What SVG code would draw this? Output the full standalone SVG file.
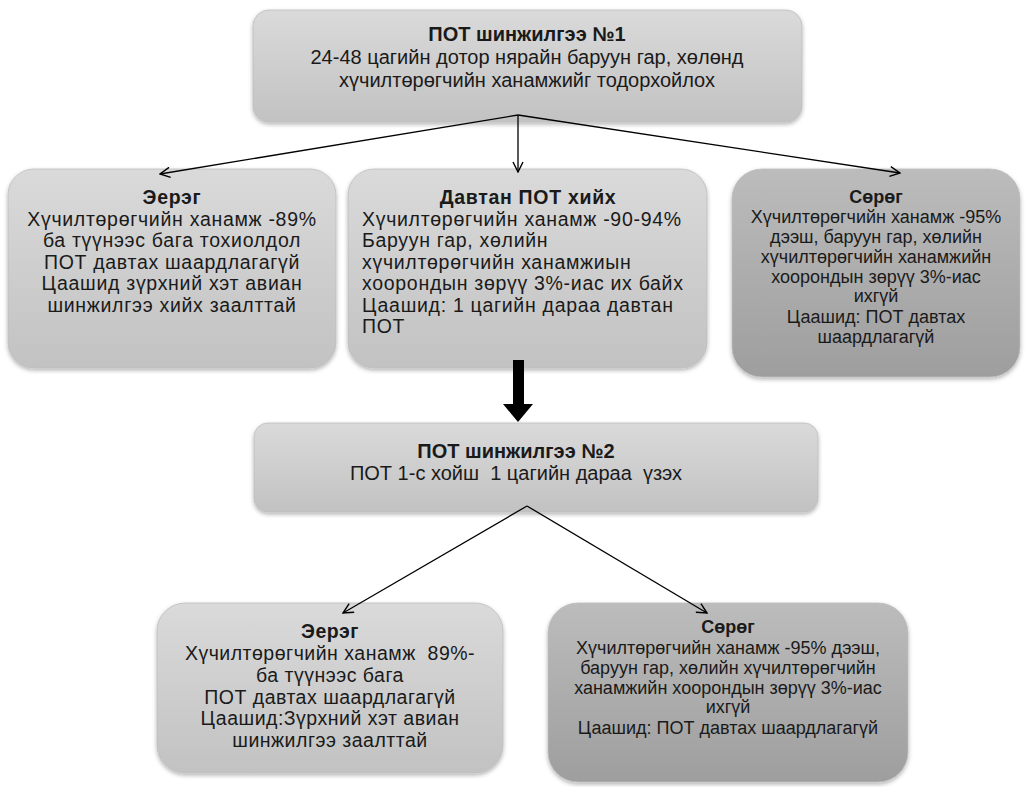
<svg xmlns="http://www.w3.org/2000/svg" width="1027" height="787" viewBox="0 0 1027 787">
<defs>
<linearGradient id="gLight" x1="0" y1="0" x2="0" y2="1">
<stop offset="0" stop-color="#dadada"/><stop offset="1" stop-color="#c2c2c2"/>
</linearGradient>
<linearGradient id="gDark" x1="0" y1="0" x2="0" y2="1">
<stop offset="0" stop-color="#bcbcbc"/><stop offset="1" stop-color="#9e9e9e"/>
</linearGradient>
<filter id="sh" x="-5%" y="-5%" width="110%" height="115%">
<feDropShadow dx="0" dy="2" stdDeviation="2" flood-color="#000" flood-opacity="0.3"/>
</filter>
<marker id="arr" viewBox="0 0 12 12" refX="11" refY="6" markerWidth="12" markerHeight="12" markerUnits="userSpaceOnUse" orient="auto">
<path d="M1,1 L11,6 L1,11" fill="none" stroke="#000" stroke-width="1.4"/>
</marker>
</defs>
<style>
.box{filter:url(#sh);stroke:#bdbdbd;stroke-width:0.8}
.light{fill:url(#gLight)}
.dark{fill:url(#gDark)}
text{font-family:"Liberation Sans",Arial,sans-serif;fill:#1a1a1a;font-size:19.5px;letter-spacing:0.7px}
.c{text-anchor:middle}
.b{font-weight:bold}
.t{font-size:20px;letter-spacing:0}
.m{letter-spacing:0.5px}
.s{font-size:18px;letter-spacing:0}
.conn{stroke:#000;stroke-width:1.3;fill:none}
</style>
<rect width="1027" height="787" fill="#fff"/>
<g id="n1">
<rect class="box light" x="253" y="10" width="549" height="112" rx="16"/>
<text class="c b t" x="527" y="41">ПОТ шинжилгээ №1</text>
<text class="c t" x="527" y="64">24-48 цагийн дотор нярайн баруун гар, хөлөнд</text>
<text class="c t" x="527" y="87">хүчилтөрөгчийн ханамжийг тодорхойлох</text>
</g>
<g id="n2">
<rect class="box light" x="8" y="169" width="328" height="199" rx="26"/>
<text class="c b" x="172" y="204">Эерэг</text>
<text class="c" x="172" y="226">Хүчилтөрөгчийн ханамж -89%</text>
<text class="c" x="172" y="247">ба түүнээс бага тохиолдол</text>
<text class="c" x="172" y="269">ПОТ давтах шаардлагагүй</text>
<text class="c" x="172" y="290">Цаашид зүрхний хэт авиан</text>
<text class="c" x="172" y="312">шинжилгээ хийх заалттай</text>
</g>
<g id="n3">
<rect class="box light" x="348" y="169" width="359" height="199" rx="26"/>
<text class="c b" x="528" y="204">Давтан ПОТ хийх</text>
<text x="362" y="226">Хүчилтөрөгчийн ханамж -90-94%</text>
<text x="362" y="247">Баруун гар, хөлийн</text>
<text x="362" y="269">хүчилтөрөгчийн ханамжиын</text>
<text x="362" y="290">хоорондын зөрүү 3%-иас их байх</text>
<text x="362" y="312">Цаашид: 1 цагийн дараа давтан</text>
<text x="362" y="333">ПОТ</text>
</g>
<g id="n4">
<rect class="box dark" x="732" y="169" width="288" height="208" rx="30"/>
<text class="c b s" x="876" y="203">Сөрөг</text>
<text class="c s" x="876" y="223">Хүчилтөрөгчийн ханамж -95%</text>
<text class="c s" x="876" y="243">дээш, баруун гар, хөлийн</text>
<text class="c s" x="876" y="263">хүчилтөрөгчийн ханамжийн</text>
<text class="c s" x="876" y="283">хоорондын зөрүү 3%-иас</text>
<text class="c s" x="876" y="302">ихгүй</text>
<text class="c s" x="876" y="323">Цаашид: ПОТ давтах</text>
<text class="c s" x="876" y="343">шаардлагагүй</text>
</g>
<g id="n5">
<rect class="box light" x="254" y="423" width="564" height="89" rx="14"/>
<text class="c b t" x="516" y="458">ПОТ шинжилгээ №2</text>
<text class="c t" x="516" y="480" xml:space="preserve">ПОТ 1-с хойш  1 цагийн дараа  үзэх</text>
</g>
<g id="n6">
<rect class="box light" x="157" y="603" width="346" height="170" rx="28"/>
<text class="c b m" x="330" y="638">Эерэг</text>
<text class="c m" x="330" y="660" xml:space="preserve">Хүчилтөрөгчийн ханамж  89%-</text>
<text class="c m" x="330" y="682">ба түүнээс бага</text>
<text class="c m" x="330" y="704">ПОТ давтах шаардлагагүй</text>
<text class="c m" x="330" y="725">Цаашид:Зүрхний хэт авиан</text>
<text class="c m" x="330" y="747">шинжилгээ заалттай</text>
</g>
<g id="n7">
<rect class="box dark" x="548" y="603" width="360" height="179" rx="30"/>
<text class="c b s" x="728" y="633">Сөрөг</text>
<text class="c s" x="728" y="654">Хүчилтөрөгчийн ханамж -95% дээш,</text>
<text class="c s" x="728" y="674">баруун гар, хөлийн хүчилтөрөгчийн</text>
<text class="c s" x="728" y="694">ханамжийн хоорондын зөрүү 3%-иас</text>
<text class="c s" x="728" y="713">ихгүй</text>
<text class="c s" x="728" y="734">Цаашид: ПОТ давтах шаардлагагүй</text>
</g>
<g id="connectors">
<line class="conn" x1="518" y1="115" x2="160" y2="174" marker-end="url(#arr)"/>
<line class="conn" x1="518" y1="115" x2="518" y2="172" marker-end="url(#arr)"/>
<line class="conn" x1="518" y1="115" x2="900" y2="173" marker-end="url(#arr)"/>
<line class="conn" x1="527" y1="506" x2="343" y2="613" marker-end="url(#arr)"/>
<line class="conn" x1="527" y1="506" x2="707" y2="613" marker-end="url(#arr)"/>
<rect x="513" y="360" width="11" height="45" fill="#000"/>
<polygon points="503,404 533,404 518,422" fill="#000"/>
</g>
</svg>
